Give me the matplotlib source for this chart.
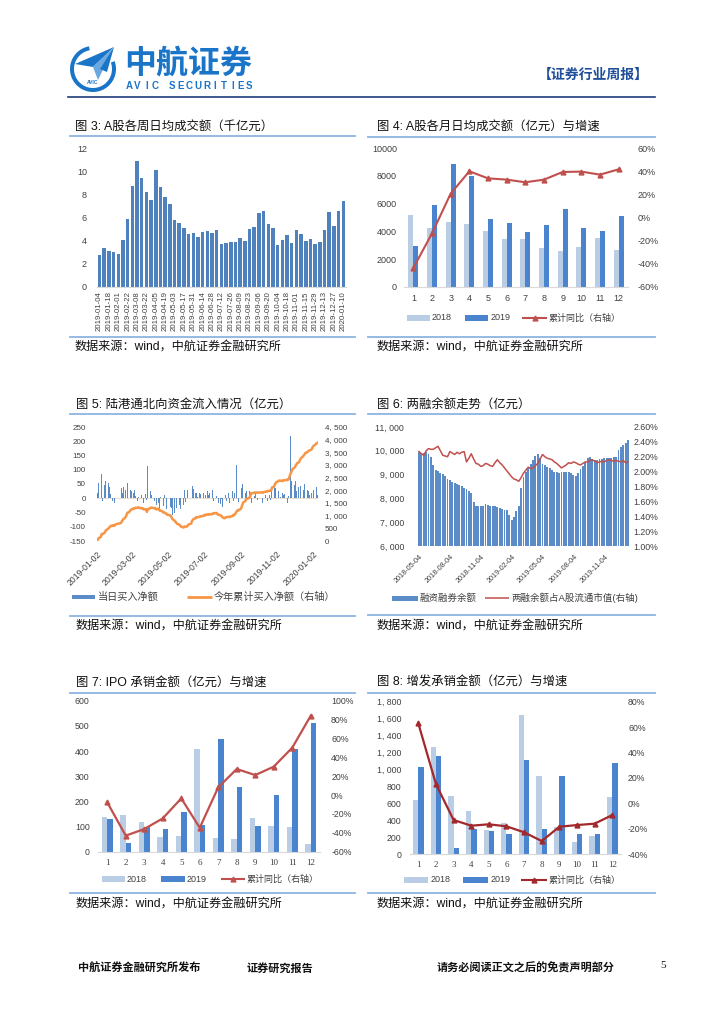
import numpy as np
import pandas as pd
import matplotlib
matplotlib.use('Agg')
import matplotlib.pyplot as plt
import matplotlib.dates as mdates
from matplotlib.patches import Rectangle, Polygon, Wedge
from datetime import datetime

# ---------- 图3: A股各周日均成交额(千亿元)
week_labels = ['2019-01-04', '2019-01-18', '2019-02-01', '2019-02-22', '2019-03-08', '2019-03-22',
               '2019-04-05', '2019-04-19', '2019-05-03', '2019-05-17', '2019-05-31', '2019-06-14',
               '2019-06-28', '2019-07-12', '2019-07-26', '2019-08-09', '2019-08-23', '2019-09-06',
               '2019-09-20', '2019-10-04', '2019-10-18', '2019-11-01', '2019-11-15', '2019-11-29',
               '2019-12-13', '2019-12-27', '2020-01-10']
week_turnover = [2.75, 3.4, 3.15, 3.0, 2.85, 4.1, 5.85, 8.75, 10.85, 9.45,
                 8.2, 7.55, 10.1, 8.6, 7.8, 7.15, 5.8, 5.5, 5.1, 4.6,
                 4.65, 4.35, 4.75, 4.8, 4.65, 4.95, 3.75, 3.8, 3.85, 3.9,
                 4.2, 3.95, 5.0, 5.15, 6.35, 6.55, 5.45, 5.1, 3.6, 4.1,
                 4.5, 3.8, 4.9, 4.6, 3.95, 4.15, 3.75, 3.85, 4.9, 6.45,
                 5.3, 6.55, 7.4]

# ---------- 图4: A股各月日均成交额(亿元)与增速
months = list(range(1, 13))
turn_2018 = [5200, 4250, 4650, 4550, 4050, 3450, 3480, 2830, 2600, 2880, 3520, 2640]
turn_2019 = [2970, 5900, 8830, 8010, 4890, 4600, 3980, 4480, 5640, 4250, 4050, 5110]
turn_yoy = [-43.6, -13.7, 20.6, 39.9, 33.8, 32.7, 30.4, 32.7, 39.3, 39.6, 37.0, 41.6]

# ---------- 图5: 陆港通北向资金流入情况(亿元), 每日净买入
nb_jan = [18, 35, 52, 40, 22, 85, 30, -8, 45, 28, 60, 12, 25, 55, 20, 38, 15, 30, -10, 28, -5, -15]
nb_feb = [48, 62, 35, 55, 20, 40, 58, 30, 45, 70, 52, 25, 38, 28, 24]
nb_mar = [25, 18, -12, 30, 15, 8, -10, 20, 6, -15, -20, 10, -25, 12, -18, -30, 15, -5, -104, 114, -14]
nb_apr = [40, 25, -10, 12, -20, -8, 15, -35, -22, 30, -18, -40, -25, 5, -30, -12, -28, -20, 10, -38, -41]
nb_may = [-30, -45, -35, -58, -20, -50, -40, -15, -35, -30, -25, -22, -10, -38, -28, -5, -22, 12, 30, -14]
nb_jun = [15, 28, 40, 10, 35, 79, 42, 30, 32, 20, 35, 18, -12, 5, 18, 10, 15, -8, 8]
nb_jul = [20, -8, 35, 12, -15, 25, 10, -20, 18, 5, -12, 28, 15, -10, 20, -5, 8, -25, -30, -18, -10, -20, -3]
nb_aug = [-35, -30, -40, 15, 10, 25, -8, 20, 0, -15, 12, 10, 25, 39, -10, 18, 15, 118, 30, 20, -12, 22]
nb_sep = [40, 35, 94, 50, 70, 45, 20, 55, 25, 40, 25, 10, 153, -15, 20, 5, 8, -10, 15, -5]
nb_oct = [10, -15, 20, 8, 12, 5, 15, -10, 20, 10, -5, 18, 40, 77, 30, 55, 45, 35]
nb_nov = [40, 35, 25, -10, 12, 5, -20, 18, 10, -8, 15, 5, 12, -15, 20, 8, 217, 40, 60, 55, 46]
nb_dec = [45, 30, 60, 25, 55, 38, 20, 70, 42, 35, 65, 28, 18, 50, 40, 22, 30, 15, 25, 10, 30, 17]
nb_jan20 = [102, 30, 45, 20, 38, 15, 10]
nb_holidays = ['2019-02-04', '2019-02-05', '2019-02-06', '2019-02-07', '2019-02-08', '2019-04-05',
               '2019-05-01', '2019-05-02', '2019-05-03', '2019-06-07', '2019-09-13', '2019-10-01',
               '2019-10-02', '2019-10-03', '2019-10-04', '2019-10-07', '2020-01-01']
nb_ticks = ['2019-01-02', '2019-03-02', '2019-05-02', '2019-07-02', '2019-09-02', '2019-11-02', '2020-01-02']

# ---------- 图6: 两融余额走势(亿元), 周度
margin_bal = [9930, 9920, 9900, 9930, 9850, 9750, 9400, 9200, 9140, 9080,
              9010, 8930, 8820, 8760, 8700, 8660, 8600, 8560, 8500, 8440,
              8380, 8300, 8240, 7850, 7700, 7680, 7670, 7700, 7760, 7740,
              7700, 7680, 7660, 7620, 7580, 7540, 7530, 7510, 7300, 7100,
              7230, 7450, 7700, 8450, 8900, 9100, 9280, 9450, 9600, 9800,
              9880, 9700, 9450, 9400, 9320, 9260, 9180, 9120, 9100, 9080,
              9100, 9120, 9110, 9090, 9080, 9000, 8940, 9080, 9250, 9380,
              9550, 9700, 9720, 9650, 9620, 9610, 9640, 9670, 9680, 9690,
              9680, 9700, 9720, 9750, 10050, 10150, 10240, 10330, 10450]
margin_ratio = [2.27, 2.24, 2.22, 2.28, 2.31, 2.30, 2.30, 2.32, 2.34, 2.28,
                2.22, 2.21, 2.20, 2.27, 2.25, 2.23, 2.26, 2.24, 2.26, 2.27,
                2.13, 2.18, 2.24, 2.17, 2.11, 2.10, 2.07, 2.08, 2.11, 2.10,
                2.08, 2.07, 2.12, 2.16, 2.12, 2.09, 2.05, 2.01, 1.97, 1.93,
                1.90, 1.89, 1.87, 1.92, 1.98, 2.02, 2.06, 2.04, 2.05, 2.08,
                2.11, 2.17, 2.23, 2.20, 2.18, 2.17, 2.16, 2.13, 2.11, 2.08,
                2.05, 2.07, 2.09, 2.12, 2.11, 2.13, 2.12, 2.10, 2.09, 2.11,
                2.13, 2.13, 2.15, 2.16, 2.14, 2.12, 2.13, 2.14, 2.13, 2.15,
                2.16, 2.15, 2.14, 2.15, 2.14, 2.13, 2.15, 2.12, 2.13]
margin_ticks = ['2018-05-04', '2018-08-04', '2018-11-04', '2019-02-04', '2019-05-04', '2019-08-04', '2019-11-04']

# ---------- 图7: IPO承销金额(亿元)与增速
ipo_2018 = [138, 144, 118, 60, 64, 407, 53, 49, 134, 101, 98, 30]
ipo_2019 = [128, 36, 97, 90, 158, 106, 449, 256, 102, 225, 407, 510]
ipo_yoy = [-7.7, -43.0, -36.0, -24.7, -3.5, -34.6, 8.2, 27.6, 21.2, 30.1, 50.2, 84.1]

# ---------- 图8: 增发承销金额(亿元)与增速
seo_2018 = [638, 1264, 689, 504, 284, 362, 1646, 922, 323, 142, 213, 670]
seo_2019 = [1032, 1158, 75, 291, 268, 240, 1111, 299, 918, 232, 236, 1075]
seo_yoy = [62.9, 15.1, -13.2, -17.7, -16.6, -18.2, -22.9, -29.8, -18.5, -17.2, -16.1, -9.3]

plt.rcParams['font.family'] = ['Liberation Sans', 'Noto Sans CJK SC']
plt.rcParams['axes.unicode_minus'] = False

W, H = 724, 1024
fig = plt.figure(figsize=(W / 100, H / 100), dpi=100)

TXT = '#404040'
RULE = '#8db4e2'
LIGHT = '#b9cde5'
DARK = '#4a84cf'
RED = '#c0504d'
LOGO = '#1a75c8'

# overlay in pixel coordinates for header, titles, rules and legends
ov = fig.add_axes([0, 0, 1, 1])
ov.set_xlim(0, W)
ov.set_ylim(H, 0)
ov.axis('off')


def box(x0, y0, x1, y1):
    return fig.add_axes([x0 / W, 1 - y1 / H, (x1 - x0) / W, (y1 - y0) / H])


def style(ax, size):
    for s in ax.spines.values():
        s.set_visible(False)
    ax.tick_params(length=0, labelsize=size, labelcolor=TXT)
    ax.patch.set_alpha(0)


def base_line(ax):
    ax.spines['bottom'].set_visible(True)
    ax.spines['bottom'].set_color('#d9d9d9')
    ax.spines['bottom'].set_linewidth(0.8)


def leg_patch(x0, x1, y, h, color):
    ov.add_patch(Rectangle((x0, y - h / 2), x1 - x0, h, color=color, lw=0))


def leg_line(x0, x1, y, color, lw, marker=None):
    ov.plot([x0, x1], [y, y], color=color, lw=lw, solid_capstyle='butt')
    if marker:
        ov.plot([(x0 + x1) / 2], [y], marker=marker, ms=3.5, color=color)


def leg_text(x, y, s, size):
    ov.text(x, y, s, fontsize=size, color=TXT, ha='left', va='center')


# ---------- header
ov.add_patch(Wedge((93, 69), 23, -20, 260, width=4, color=LOGO, lw=0))
ov.add_patch(Polygon([(114, 47), (75, 64), (93, 67)], closed=True, color=LOGO, lw=0))
ov.add_patch(Polygon([(114, 47), (93, 67), (98, 80)], closed=True, color='#6aa8e0', lw=0))
ov.add_patch(Polygon([(114, 47), (100, 69), (107, 72)], closed=True, color=LOGO, lw=0))
ov.text(93, 83, 'AVIC', fontsize=3.5, color=LOGO, ha='center', va='center', weight='bold')
ov.text(124, 64, '中航证券', fontsize=23, color=LOGO, ha='left', va='center',
        family=['Noto Sans CJK SC'], weight='bold')
for i, ch in enumerate('AVIC SECURITIES'):
    ov.text(129 + i * 8.6, 86, ch, fontsize=7, color=LOGO, ha='center', va='center', weight='bold')
ov.text(538, 75, '【证券行业周报】', fontsize=10, color='#1f4e9a', ha='left', va='center',
        family=['Noto Sans CJK SC'], weight='bold')
ov.plot([68, 655], [97, 97], color='#1f3d7a', lw=1.2)

# ---------- titles, rules, sources
panels = [
    ('图 3: A股各周日均成交额（千亿元）', 75, 127, 70, 355, 136, 337, 347),
    ('图 4: A股各月日均成交额（亿元）与增速', 377, 127, 368, 655, 137, 337, 347),
    ('图 5: 陆港通北向资金流入情况（亿元）', 76, 405, 70, 355, 414, 616, 626),
    ('图 6: 两融余额走势（亿元）', 377, 405, 368, 655, 414, 615, 626),
    ('图 7: IPO 承销金额（亿元）与增速', 76, 683, 70, 355, 693, 893, 904),
    ('图 8: 增发承销金额（亿元）与增速', 377, 683, 368, 655, 693, 893, 904),
]
for title, tx, ty, lx0, lx1, ytop, ybot, ysrc in panels:
    ov.text(tx, ty, title, fontsize=8.9, color='#111111', ha='left', va='center')
    ov.plot([lx0, lx1], [ytop, ytop], color=RULE, lw=1.3)
    ov.plot([lx0, lx1], [ybot, ybot], color=RULE, lw=1.3)
    ov.text(tx, ysrc, '数据来源：wind，中航证券金融研究所', fontsize=8.7, color='#111111',
            ha='left', va='center')

# ---------- 图3
ax3 = box(96.7, 148, 346.1, 287)
style(ax3, 6.5)
base_line(ax3)
ax3.bar(range(len(week_turnover)), week_turnover, width=0.75, color='#4f81bd', lw=0)
ax3.set_xlim(-0.6, len(week_turnover) - 0.4)
ax3.set_ylim(0, 12)
ax3.set_yticks(range(0, 13, 2))
ax3.set_xticks(range(0, len(week_turnover), 2))
ax3.set_xticklabels(week_labels, rotation=90, fontsize=5.6)
ax3.tick_params(axis='y', pad=7)
ax3.tick_params(axis='x', pad=3)

# ---------- 图4
x = np.array(months)
ax4 = box(404, 148, 628, 287)
style(ax4, 6.5)
base_line(ax4)
ax4.bar(x - 0.14, turn_2018, width=0.27, color=LIGHT, lw=0)
ax4.bar(x + 0.14, turn_2019, width=0.27, color=DARK, lw=0)
ax4.set_xlim(0.5, 12.5)
ax4.set_ylim(0, 10000)
ax4.set_yticks(range(0, 10001, 2000))
ax4.set_xticks(months)
ax4.tick_params(axis='y', pad=5)
ax4.tick_params(axis='x', pad=5)
ax4b = ax4.twinx()
style(ax4b, 6.5)
ax4b.plot(x, turn_yoy, color=RED, lw=1.5, marker='^', ms=3.5)
ax4b.set_ylim(-60, 60)
ax4b.set_yticks(range(-60, 61, 20))
ax4b.set_yticklabels([f'{v}%' for v in range(-60, 61, 20)])
ax4b.tick_params(axis='y', pad=7)
leg_patch(407, 430, 318, 6, LIGHT)
leg_text(432, 318, '2018', 6.5)
leg_patch(465, 488, 318, 6, DARK)
leg_text(491, 318, '2019', 6.5)
leg_line(522, 547, 318, RED, 1.5, '^')
leg_text(549, 318, '累计同比（右轴）', 6.5)

# ---------- 图5
d5 = pd.bdate_range('2019-01-02', '2020-01-10')
d5 = d5[~d5.isin(pd.to_datetime(nb_holidays))]
nb_daily = nb_jan + nb_feb + nb_mar + nb_apr + nb_may + nb_jun + nb_jul + nb_aug + nb_sep + \
    nb_oct + nb_nov + nb_dec + nb_jan20
n = min(len(d5), len(nb_daily))
x5 = mdates.date2num(d5[:n].to_pydatetime())
daily = np.array(nb_daily[:n])
cum = np.cumsum(daily)

ax5 = box(97, 427, 318, 541)
style(ax5, 5.8)
ax5.axhline(0, color='#eadfcf', lw=0.8, zorder=0)
ax5.bar(x5, daily, width=0.8, color='#5b8cc8', lw=0)
ax5.set_xlim(mdates.date2num(datetime(2019, 1, 1, 12)), mdates.date2num(datetime(2020, 1, 10, 18)))
ax5.set_ylim(-150, 250)
ax5.set_yticks(range(-150, 251, 50))
ax5.set_xticks(mdates.date2num(pd.to_datetime(nb_ticks).to_pydatetime()))
ax5.set_xticklabels(nb_ticks, rotation=45, ha='right', rotation_mode='anchor', fontsize=6.2)
ax5.tick_params(axis='y', pad=8)
ax5.tick_params(axis='x', pad=6)
ax5b = ax5.twinx()
style(ax5b, 5.8)
ax5b.plot(x5, cum, color='#f79646', lw=1.8)
ax5b.set_ylim(0, 4500)
ax5b.set_yticks(range(0, 4501, 500))
ax5b.set_yticklabels([f'{v:,}'.replace(',', ', ') for v in range(0, 4501, 500)])
ax5b.tick_params(axis='y', pad=5)
leg_patch(72, 95, 597, 4.5, '#5b8cc8')
leg_text(98, 597, '当日买入净额', 7.3)
leg_line(187, 212, 597, '#f79646', 2)
leg_text(214, 597, '今年累计买入净额（右轴）', 7.3)

# ---------- 图6
d6 = pd.date_range('2018-05-04', periods=len(margin_bal), freq='7D')
x6 = mdates.date2num(d6.to_pydatetime())
ax6 = box(418, 427, 629, 546)
style(ax6, 6.3)
ax6.bar(x6, margin_bal, width=5.6, color='#5b8cc8', lw=0)
ax6.set_xlim(x6[0] - 3, x6[-1] + 3)
ax6.set_ylim(6000, 11000)
ax6.set_yticks(range(6000, 11001, 1000))
ax6.set_yticklabels([f'{v:,}'.replace(',', ', ') for v in range(6000, 11001, 1000)])
ax6.set_xticks(mdates.date2num(pd.to_datetime(margin_ticks).to_pydatetime()))
ax6.set_xticklabels(margin_ticks, rotation=45, ha='right', rotation_mode='anchor', fontsize=5.2)
ax6.tick_params(axis='y', pad=10)
ax6.tick_params(axis='x', pad=5)
ax6b = ax6.twinx()
style(ax6b, 6.3)
ax6b.plot(x6, margin_ratio, color=RED, lw=1.1)
ax6b.set_ylim(1.0, 2.6)
ratio_ticks = np.arange(1.0, 2.61, 0.2)
ax6b.set_yticks(ratio_ticks)
ax6b.set_yticklabels([f'{v:.2f}%' for v in ratio_ticks])
ax6b.tick_params(axis='y', pad=3)
leg_patch(392, 418, 598, 5, '#5b8cc8')
leg_text(420, 598, '融资融券余额', 6.8)
leg_line(485, 509, 598, RED, 1.1)
leg_text(511, 598, '两融余额占A股流通市值(右轴)', 6.8)

# ---------- 图7
ax7 = box(98, 700.7, 320, 851.7)
style(ax7, 6.3)
base_line(ax7)
ax7.bar(x - 0.15, ipo_2018, width=0.3, color=LIGHT, lw=0)
ax7.bar(x + 0.15, ipo_2019, width=0.3, color=DARK, lw=0)
ax7.set_xlim(0.5, 12.5)
ax7.set_ylim(0, 600)
ax7.set_yticks(range(0, 601, 100))
ax7.set_xticks(months)
ax7.set_xticklabels([str(m) for m in months], family=['Liberation Serif'], fontsize=6.5)
ax7.tick_params(axis='y', pad=6)
ax7.tick_params(axis='x', pad=5)
ax7b = ax7.twinx()
style(ax7b, 6.3)
ax7b.plot(x, ipo_yoy, color=RED, lw=1.6, marker='^', ms=3.5)
ax7b.set_ylim(-60, 100)
ax7b.set_yticks(range(-60, 101, 20))
ax7b.set_yticklabels([f'{v}%' for v in range(-60, 101, 20)])
ax7b.tick_params(axis='y', pad=8)
leg_patch(102, 125, 879, 6, LIGHT)
leg_text(127, 879, '2018', 6.5)
leg_patch(161, 185, 879, 6, DARK)
leg_text(187, 879, '2019', 6.5)
leg_line(221, 245, 879, RED, 1.5, '^')
leg_text(247, 879, '累计同比（右轴）', 6.5)

# ---------- 图8
ax8 = box(409.5, 701.7, 621.1, 854)
style(ax8, 6.3)
base_line(ax8)
ax8.bar(x - 0.15, seo_2018, width=0.3, color=LIGHT, lw=0)
ax8.bar(x + 0.15, seo_2019, width=0.3, color=DARK, lw=0)
ax8.set_xlim(0.5, 12.5)
ax8.set_ylim(0, 1800)
ax8.set_yticks(range(0, 1801, 200))
ax8.set_yticklabels([f'{v:,}'.replace(',', ', ') for v in range(0, 1801, 200)])
ax8.set_xticks(months)
ax8.set_xticklabels([str(m) for m in months], family=['Liberation Serif'], fontsize=6.5)
ax8.tick_params(axis='y', pad=6)
ax8.tick_params(axis='x', pad=5)
ax8b = ax8.twinx()
style(ax8b, 6.3)
ax8b.plot(x, seo_yoy, color='#a3282c', lw=1.6, marker='^', ms=3.5)
ax8b.set_ylim(-40, 80)
ax8b.set_yticks(range(-40, 81, 20))
ax8b.set_yticklabels([f'{v}%' for v in range(-40, 81, 20)])
ax8b.tick_params(axis='y', pad=5)
leg_patch(404, 428, 880, 6, LIGHT)
leg_text(431, 880, '2018', 6.5)
leg_patch(463, 488, 880, 6, DARK)
leg_text(491, 880, '2019', 6.5)
leg_line(521, 547, 880, '#a3282c', 1.5, '^')
leg_text(549, 880, '累计同比（右轴）', 6.5)

# ---------- footer
ov.text(78, 968, '中航证券金融研究所发布', fontsize=8, color='#111111', ha='left', va='center', weight='bold')
ov.text(247, 968, '证券研究报告', fontsize=8, color='#111111', ha='left', va='center', weight='bold')
ov.text(437, 968, '请务必阅读正文之后的免责声明部分', fontsize=8, color='#111111', ha='left', va='center',
        weight='bold')
ov.text(660, 966, '5', fontsize=8, color='#111111', ha='left', va='center', family=['Liberation Serif'])

fig.savefig('out.png', dpi=100)
